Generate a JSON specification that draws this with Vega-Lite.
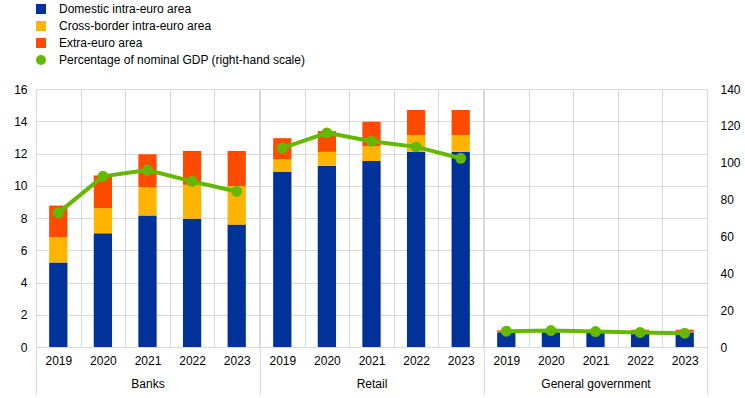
{
  "$schema": "https://vega.github.io/schema/vega-lite/v6.json",
  "padding": {"left": 13, "top": 3, "right": 5, "bottom": 3},
  "config": {
    "font": "Liberation Sans",
    "view": {"stroke": null},
    "axis": {"labelFontSize": 12, "labelColor": "#000000", "titleFontSize": 12, "titleFontWeight": "normal", "titleColor": "#000000", "gridColor": "#d9d9d9", "domainColor": "#d9d9d9", "tickColor": "#d9d9d9"},
    "legend": {"labelFontSize": 12, "labelColor": "#000000", "symbolSize": 100, "symbolType": "square", "symbolStrokeWidth": 0, "labelOffset": 12, "rowPadding": 5, "labelLimit": 400}
  },
  "datasets": {
    "bars": [
      {"group": "Banks", "year": "2019", "series": "Domestic intra-euro area", "value": 5.24},
      {"group": "Banks", "year": "2019", "series": "Cross-border intra-euro area", "value": 1.56},
      {"group": "Banks", "year": "2019", "series": "Extra-euro area", "value": 1.97},
      {"group": "Banks", "year": "2020", "series": "Domestic intra-euro area", "value": 7.05},
      {"group": "Banks", "year": "2020", "series": "Cross-border intra-euro area", "value": 1.56},
      {"group": "Banks", "year": "2020", "series": "Extra-euro area", "value": 2.03},
      {"group": "Banks", "year": "2021", "series": "Domestic intra-euro area", "value": 8.15},
      {"group": "Banks", "year": "2021", "series": "Cross-border intra-euro area", "value": 1.77},
      {"group": "Banks", "year": "2021", "series": "Extra-euro area", "value": 2.03},
      {"group": "Banks", "year": "2022", "series": "Domestic intra-euro area", "value": 7.96},
      {"group": "Banks", "year": "2022", "series": "Cross-border intra-euro area", "value": 2.10},
      {"group": "Banks", "year": "2022", "series": "Extra-euro area", "value": 2.10},
      {"group": "Banks", "year": "2023", "series": "Domestic intra-euro area", "value": 7.59},
      {"group": "Banks", "year": "2023", "series": "Cross-border intra-euro area", "value": 2.39},
      {"group": "Banks", "year": "2023", "series": "Extra-euro area", "value": 2.18},
      {"group": "Retail", "year": "2019", "series": "Domestic intra-euro area", "value": 10.85},
      {"group": "Retail", "year": "2019", "series": "Cross-border intra-euro area", "value": 0.79},
      {"group": "Retail", "year": "2019", "series": "Extra-euro area", "value": 1.31},
      {"group": "Retail", "year": "2020", "series": "Domestic intra-euro area", "value": 11.23},
      {"group": "Retail", "year": "2020", "series": "Cross-border intra-euro area", "value": 0.87},
      {"group": "Retail", "year": "2020", "series": "Extra-euro area", "value": 1.29},
      {"group": "Retail", "year": "2021", "series": "Domestic intra-euro area", "value": 11.54},
      {"group": "Retail", "year": "2021", "series": "Cross-border intra-euro area", "value": 0.93},
      {"group": "Retail", "year": "2021", "series": "Extra-euro area", "value": 1.50},
      {"group": "Retail", "year": "2022", "series": "Domestic intra-euro area", "value": 12.10},
      {"group": "Retail", "year": "2022", "series": "Cross-border intra-euro area", "value": 1.04},
      {"group": "Retail", "year": "2022", "series": "Extra-euro area", "value": 1.56},
      {"group": "Retail", "year": "2023", "series": "Domestic intra-euro area", "value": 12.10},
      {"group": "Retail", "year": "2023", "series": "Cross-border intra-euro area", "value": 1.04},
      {"group": "Retail", "year": "2023", "series": "Extra-euro area", "value": 1.56},
      {"group": "General government", "year": "2019", "series": "Domestic intra-euro area", "value": 0.92},
      {"group": "General government", "year": "2019", "series": "Cross-border intra-euro area", "value": 0.03},
      {"group": "General government", "year": "2019", "series": "Extra-euro area", "value": 0.09},
      {"group": "General government", "year": "2020", "series": "Domestic intra-euro area", "value": 0.92},
      {"group": "General government", "year": "2020", "series": "Cross-border intra-euro area", "value": 0.03},
      {"group": "General government", "year": "2020", "series": "Extra-euro area", "value": 0.08},
      {"group": "General government", "year": "2021", "series": "Domestic intra-euro area", "value": 0.91},
      {"group": "General government", "year": "2021", "series": "Cross-border intra-euro area", "value": 0.03},
      {"group": "General government", "year": "2021", "series": "Extra-euro area", "value": 0.08},
      {"group": "General government", "year": "2022", "series": "Domestic intra-euro area", "value": 0.91},
      {"group": "General government", "year": "2022", "series": "Cross-border intra-euro area", "value": 0.03},
      {"group": "General government", "year": "2022", "series": "Extra-euro area", "value": 0.13},
      {"group": "General government", "year": "2023", "series": "Domestic intra-euro area", "value": 0.91},
      {"group": "General government", "year": "2023", "series": "Cross-border intra-euro area", "value": 0.03},
      {"group": "General government", "year": "2023", "series": "Extra-euro area", "value": 0.13}
    ],
    "gdp": [
      {"group": "Banks", "year": "2019", "gdp": 72.8},
      {"group": "Banks", "year": "2020", "gdp": 92.6},
      {"group": "Banks", "year": "2021", "gdp": 96.0},
      {"group": "Banks", "year": "2022", "gdp": 89.9},
      {"group": "Banks", "year": "2023", "gdp": 84.4},
      {"group": "Retail", "year": "2019", "gdp": 107.9},
      {"group": "Retail", "year": "2020", "gdp": 116.2},
      {"group": "Retail", "year": "2021", "gdp": 111.7},
      {"group": "Retail", "year": "2022", "gdp": 108.6},
      {"group": "Retail", "year": "2023", "gdp": 102.4},
      {"group": "General government", "year": "2019", "gdp": 8.6},
      {"group": "General government", "year": "2020", "gdp": 8.9},
      {"group": "General government", "year": "2021", "gdp": 8.4},
      {"group": "General government", "year": "2022", "gdp": 7.9},
      {"group": "General government", "year": "2023", "gdp": 7.5}
    ]
  },
  "resolve": {"scale": {"color": "shared"}, "legend": {"color": "shared"}},
  "spacing": 0,
  "hconcat": [
    {
      "width": 223, "height": 258,
      "layer": [
        {
          "data": {"name": "bars"},
          "transform": [{"filter": "datum.group == 'Banks'"}, {"calculate": "indexof(['Domestic intra-euro area','Cross-border intra-euro area','Extra-euro area'], datum.series)", "as": "k"}],
          "mark": {"type": "bar", "width": {"band": 0.41}},
          "encoding": {
            "x": {"field": "year", "type": "ordinal", "scale": {"paddingInner": 0, "paddingOuter": 0},
                  "axis": {"title": "Banks", "labelAngle": 0, "tickBand": "extent", "grid": true, "ticks": true, "tickSize": 47, "tickOpacity": {"condition": {"test": "datum.index < 0", "value": 1}, "value": 0}, "labelPadding": -39, "titleY": 31, "titleBaseline": "top"}},
            "y": {"field": "value", "type": "quantitative", "stack": "zero", "scale": {"domain": [0, 16], "nice": false},
                  "axis": {"title": null, "values": [0, 2, 4, 6, 8, 10, 12, 14, 16], "grid": true, "domain": false, "ticks": false, "labelPadding": 9}},
            "color": {"field": "series", "type": "nominal",
                      "scale": {"domain": ["Domestic intra-euro area", "Cross-border intra-euro area", "Extra-euro area", "Percentage of nominal GDP (right-hand scale)"], "range": ["#003299", "#ffb400", "#ff4b00", "#65b800"]},
                      "legend": {"title": null, "orient": "none", "legendX": -1, "legendY": -86, "direction": "vertical",
                                 "encode": {"symbols": {"update": {"shape": {"signal": "datum.value == 'Percentage of nominal GDP (right-hand scale)' ? 'circle' : 'square'"}}}}}},
            "order": {"field": "k", "type": "quantitative"}
          }
        },
        {
          "data": {"name": "gdp"},
          "transform": [{"filter": "datum.group == 'Banks'"}],
          "encoding": {
            "x": {"field": "year", "type": "ordinal"},
            "y": {"field": "gdp", "type": "quantitative", "scale": {"domain": [0, 140], "nice": false}, "axis": null}
          },
          "layer": [
            {"mark": {"type": "line", "color": "#65b800", "strokeWidth": 4}},
            {"mark": {"type": "point", "filled": true, "size": 120, "opacity": 1}, "encoding": {"color": {"datum": "Percentage of nominal GDP (right-hand scale)"}}}
          ]
        }
      ],
      "resolve": {"scale": {"y": "independent"}}
    },
    {
      "width": 223, "height": 258,
      "layer": [
        {
          "data": {"name": "bars"},
          "transform": [{"filter": "datum.group == 'Retail'"}, {"calculate": "indexof(['Domestic intra-euro area','Cross-border intra-euro area','Extra-euro area'], datum.series)", "as": "k"}],
          "mark": {"type": "bar", "width": {"band": 0.41}},
          "encoding": {
            "x": {"field": "year", "type": "ordinal", "scale": {"paddingInner": 0, "paddingOuter": 0},
                  "axis": {"title": "Retail", "labelAngle": 0, "tickBand": "extent", "grid": true, "ticks": true, "tickSize": 47, "tickOpacity": {"condition": {"test": "datum.index < 0", "value": 1}, "value": 0}, "labelPadding": -39, "titleY": 31, "titleBaseline": "top"}},
            "y": {"field": "value", "type": "quantitative", "stack": "zero", "scale": {"domain": [0, 16], "nice": false},
                  "axis": {"title": null, "values": [0, 2, 4, 6, 8, 10, 12, 14, 16], "grid": true, "domain": false, "ticks": false, "labels": false}},
            "color": {"field": "series", "type": "nominal"},
            "order": {"field": "k", "type": "quantitative"}
          }
        },
        {
          "data": {"name": "gdp"},
          "transform": [{"filter": "datum.group == 'Retail'"}],
          "encoding": {
            "x": {"field": "year", "type": "ordinal"},
            "y": {"field": "gdp", "type": "quantitative", "scale": {"domain": [0, 140], "nice": false}, "axis": null}
          },
          "layer": [
            {"mark": {"type": "line", "color": "#65b800", "strokeWidth": 4}},
            {"mark": {"type": "point", "filled": true, "size": 120, "opacity": 1}, "encoding": {"color": {"datum": "Percentage of nominal GDP (right-hand scale)"}}}
          ]
        }
      ],
      "resolve": {"scale": {"y": "independent"}}
    },
    {
      "width": 223, "height": 258,
      "layer": [
        {
          "data": {"name": "bars"},
          "transform": [{"filter": "datum.group == 'General government'"}, {"calculate": "indexof(['Domestic intra-euro area','Cross-border intra-euro area','Extra-euro area'], datum.series)", "as": "k"}],
          "mark": {"type": "bar", "width": {"band": 0.41}},
          "encoding": {
            "x": {"field": "year", "type": "ordinal", "scale": {"paddingInner": 0, "paddingOuter": 0},
                  "axis": {"title": "General government", "labelAngle": 0, "tickBand": "extent", "grid": true, "ticks": true, "tickSize": 47, "tickOpacity": {"condition": {"test": "datum.index < 0 || datum.value == '2023'", "value": 1}, "value": 0}, "labelPadding": -39, "titleY": 31, "titleBaseline": "top"}},
            "y": {"field": "value", "type": "quantitative", "stack": "zero", "scale": {"domain": [0, 16], "nice": false},
                  "axis": {"title": null, "values": [0, 2, 4, 6, 8, 10, 12, 14, 16], "grid": true, "domain": false, "ticks": false, "labels": false}},
            "color": {"field": "series", "type": "nominal"},
            "order": {"field": "k", "type": "quantitative"}
          }
        },
        {
          "data": {"name": "gdp"},
          "transform": [{"filter": "datum.group == 'General government'"}],
          "encoding": {
            "x": {"field": "year", "type": "ordinal"},
            "y": {"field": "gdp", "type": "quantitative", "scale": {"domain": [0, 140], "nice": false},
                  "axis": {"orient": "right", "title": null, "values": [0, 20, 40, 60, 80, 100, 120, 140], "grid": false, "domain": false, "ticks": false, "labelPadding": 13}}
          },
          "layer": [
            {"mark": {"type": "line", "color": "#65b800", "strokeWidth": 4}},
            {"mark": {"type": "point", "filled": true, "size": 120, "opacity": 1}, "encoding": {"color": {"datum": "Percentage of nominal GDP (right-hand scale)"}}}
          ]
        }
      ],
      "resolve": {"scale": {"y": "independent"}}
    }
  ]
}
